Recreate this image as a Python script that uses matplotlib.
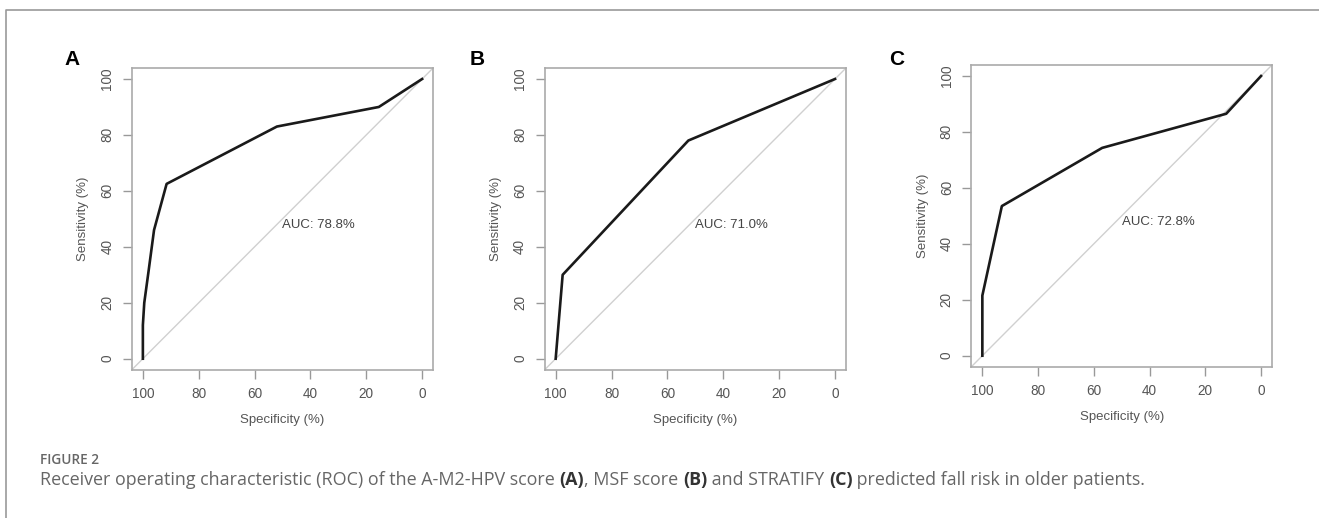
import matplotlib.pyplot as plt
from matplotlib.lines import Line2D

# ROC points (specificity %, sensitivity %)
spec_a = [100, 100, 99.5, 98, 96, 91.5, 52, 15.5, 0]
sens_a = [0, 12, 20, 31, 46, 62.5, 83, 90, 100]
auc_a = "AUC: 78.8%"

spec_b = [100, 97.5, 52.5, 0]
sens_b = [0, 30, 78, 100]
auc_b = "AUC: 71.0%"

spec_c = [100, 100, 93, 57, 12.5, 0]
sens_c = [0, 21.5, 53.5, 74.3, 86.5, 100]
auc_c = "AUC: 72.8%"

panel_names = ["A", "B", "C"]
ticks = [0, 20, 40, 60, 80, 100]

plt.rcParams['font.family'] = ['Liberation Sans', 'DejaVu Sans']

W, H = 1319, 518
fig = plt.figure(figsize=(W / 100, H / 100), dpi=100)

# axes boxes in pixels: left, top, right, bottom
boxes = [(131.7, 67.8, 433.3, 369.9),
         (544.5, 67.8, 846.2, 369.9),
         (971.2, 64.8, 1272.2, 366.9)]
letter_x = [64, 470, 889]

data = [(spec_a, sens_a, auc_a), (spec_b, sens_b, auc_b), (spec_c, sens_c, auc_c)]

for (l, t, r, b), (spec, sens, auc), name, lx in zip(boxes, data, panel_names, letter_x):
    ax = fig.add_axes([l / W, 1 - b / H, (r - l) / W, (b - t) / H])
    ax.axline((100, 0), (0, 100), color='#d0d0d0', lw=1.0, zorder=1)
    ax.plot(spec, sens, color='#1a1a1a', lw=1.9, zorder=2)
    ax.set_xlim(104, -4)
    ax.set_ylim(-4, 104)
    ax.set_xticks(ticks)
    ax.set_yticks(ticks)
    ax.set_yticklabels([str(v) for v in ticks], rotation=90, va='center')
    ax.tick_params(length=6.5, width=1, color='#999999', labelcolor='#555555',
                   labelsize=9.8, pad=6)
    for s in ax.spines.values():
        s.set_color('#aaaaaa')
        s.set_linewidth(1.2)
    ax.set_xlabel("Specificity (%)", fontsize=9.5, color='#555555', labelpad=9)
    ax.set_ylabel("Sensitivity (%)", fontsize=9.5, color='#555555', labelpad=8)
    ax.text(50, 50, auc, ha='left', va='top', fontsize=9.5, color='#444444')
    fig.text(lx / W, 1 - 50 / H, name, ha='left', va='top', fontsize=15,
             fontweight='bold', color='black')

# frame lines
fig.add_artist(Line2D([6 / W, 6 / W, 1], [0, 1 - 10 / H, 1 - 10 / H],
                      transform=fig.transFigure, color='#999999', lw=1.2))

# caption
cap_font = ['Open Sans', 'DejaVu Sans']
fig.text(40 / W, 1 - 453 / H, "FIGURE 2", ha='left', va='top', fontsize=9.8,
         fontweight='semibold', color='#666666', family=cap_font)

pieces = [("Receiver operating characteristic (ROC) of the A-M2-HPV score ", False),
          ("(A)", True), (", MSF score ", False), ("(B)", True),
          (" and STRATIFY ", False), ("(C)", True),
          (" predicted fall risk in older patients.", False)]
renderer = fig.canvas.get_renderer()
x = 40
for txt, bold in pieces:
    t = fig.text(x / W, 1 - 485 / H, txt, fontsize=12.9, family=cap_font,
                 color='#333333' if bold else '#666666',
                 fontweight='bold' if bold else 'normal', ha='left', va='baseline')
    x = t.get_window_extent(renderer).x1

fig.savefig("out.png", dpi=100)
